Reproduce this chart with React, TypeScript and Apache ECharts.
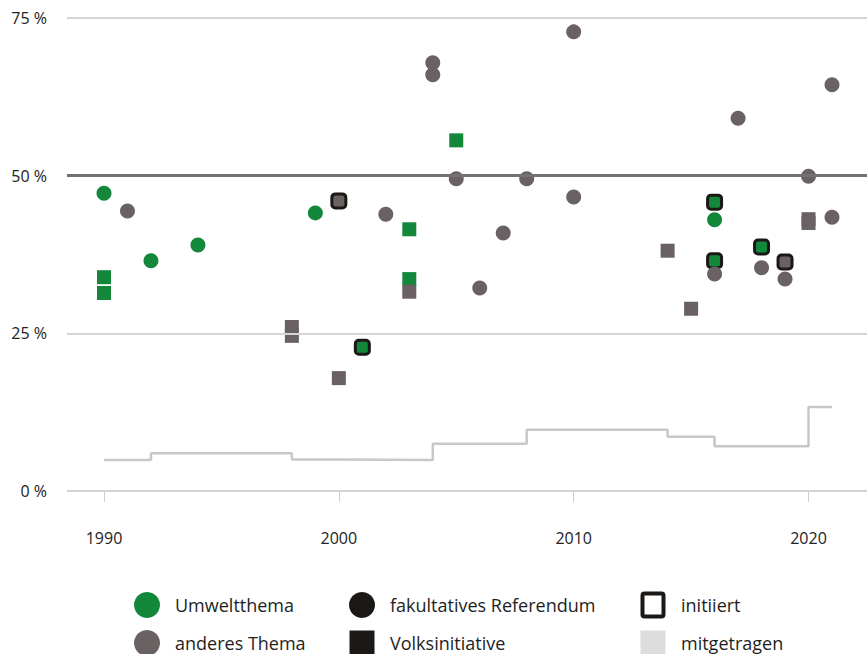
import React, { useEffect, useRef } from "react";
import * as echarts from "echarts";

// ---- data ----
const yearTicks = [1990, 2000, 2010, 2020];
const yTickLabels = ["0 %", "25 %", "50 %", "75 %"];

// light grey step line (mitgetragen)
const stepYears = [1990, 1992, 1998, 2000, 2004, 2008, 2014, 2016, 2020, 2021];
const stepValues = [4.9, 6.0, 5.0, 4.9, 7.5, 9.7, 8.6, 7.1, 13.3, 13.3];

// Volksinitiative (square), Umweltthema (green)
const initiativeGreen: [number, number][] = [
  [1990, 33.9], [1990, 31.4], [2003, 41.5], [2003, 33.6], [2005, 55.6],
];
// Volksinitiative (square), anderes Thema (grey)
const initiativeGrey: [number, number][] = [
  [1998, 26.0], [1998, 24.6], [2000, 17.9], [2003, 31.6], [2014, 38.1],
  [2015, 28.9], [2020, 43.1], [2020, 42.5],
];
// initiiert, Umweltthema
const initiatedGreen: [number, number][] = [
  [2001, 22.8], [2016, 45.8], [2016, 36.5], [2018, 38.7],
];
// initiiert, anderes Thema
const initiatedGrey: [number, number][] = [
  [2000, 46.0], [2019, 36.3],
];
// fakultatives Referendum (circle), Umweltthema
const referendumGreen: [number, number][] = [
  [1990, 47.2], [1992, 36.5], [1994, 39.0], [1999, 44.1], [2016, 43.0],
];
// fakultatives Referendum (circle), anderes Thema
const referendumGrey: [number, number][] = [
  [1991, 44.4], [2002, 43.9], [2004, 67.9], [2004, 66.0], [2005, 49.5],
  [2006, 32.2], [2007, 40.9], [2008, 49.5], [2010, 72.8], [2010, 46.6],
  [2016, 34.4], [2017, 59.1], [2018, 35.4], [2019, 33.6], [2020, 49.9],
  [2021, 64.4], [2021, 43.4],
];

const legendItems = [
  { label: "Umweltthema", kind: "circle", color: "#13883a", col: 0, row: 0 },
  { label: "anderes Thema", kind: "circle", color: "#6a6262", col: 0, row: 1 },
  { label: "fakultatives Referendum", kind: "circle", color: "#1b1815", col: 1, row: 0 },
  { label: "Volksinitiative", kind: "square", color: "#1b1815", col: 1, row: 1 },
  { label: "initiiert", kind: "hollow", color: "#1b1815", col: 2, row: 0 },
  { label: "mitgetragen", kind: "square", color: "#dedddd", col: 2, row: 1 },
];

const GREEN = "#13883a";
const GREY = "#6a6262";
const BLACK = "#1b1815";
const FONT = "Open Sans";

export default function App() {
  const ref = useRef<HTMLDivElement>(null);
  useEffect(() => {
    const chart = echarts.init(ref.current!, null, { renderer: "svg" });

    const colX = [147, 362, 653];
    const rowY = [605, 643];
    const legendGraphics: any[] = [];
    legendItems.forEach((it) => {
      const cx = colX[it.col];
      const cy = rowY[it.row];
      if (it.kind === "circle") {
        legendGraphics.push({ type: "circle", shape: { cx, cy, r: 13 }, style: { fill: it.color } });
      } else if (it.kind === "square") {
        legendGraphics.push({ type: "rect", shape: { x: cx - 12.5, y: cy - 12.5, width: 25, height: 26 }, style: { fill: it.color } });
      } else {
        legendGraphics.push({
          type: "rect",
          shape: { x: cx - 10.5, y: cy - 11.5, width: 21, height: 23, r: 2 },
          style: { fill: "#fff", stroke: it.color, lineWidth: 4 },
        });
      }
      legendGraphics.push({
        type: "text",
        x: cx + 28,
        y: cy,
        style: { text: it.label, fill: "#1e1e1e", font: `18px "${FONT}"`, verticalAlign: "middle", align: "left" },
      });
    });

    const sq = (data: [number, number][], color: string) => ({
      type: "scatter",
      xAxisIndex: 1,
      yAxisIndex: 1,
      symbol: "rect",
      symbolSize: 14,
      itemStyle: { color, opacity: 1 },
      data,
    });
    const initSq = (data: [number, number][], color: string) => ({
      type: "scatter",
      xAxisIndex: 1,
      yAxisIndex: 1,
      symbol: "roundRect",
      symbolSize: 14,
      itemStyle: { color, borderColor: BLACK, borderWidth: 3, opacity: 1 },
      data,
    });
    const circ = (data: [number, number][], color: string) => ({
      type: "scatter",
      xAxisIndex: 1,
      yAxisIndex: 1,
      symbol: "circle",
      symbolSize: 15,
      itemStyle: { color, opacity: 1 },
      data,
    });

    const pxPerYear = 728 / 31;

    chart.setOption({
      animation: false,
      textStyle: { fontFamily: FONT },
      grid: [
        { left: 67, right: 0, top: 18, bottom: 163 },
        { left: 104, width: pxPerYear * 31, top: 18, bottom: 163 },
        { left: 104, width: pxPerYear * 30, top: 18, bottom: 163 },
      ],
      xAxis: [
        { gridIndex: 0, type: "value", min: 0, max: 1, show: false },
        { gridIndex: 1, type: "value", min: 1990, max: 2021, show: false },
        {
          gridIndex: 2,
          type: "value",
          min: 1990,
          max: 2020,
          interval: 10,
          offset: 23,
          axisLine: { show: false },
          axisTick: { show: true, length: 11, lineStyle: { color: "#d0cdcd", width: 1 } },
          splitLine: { show: false },
          axisLabel: {
            margin: 16,
            color: "#222",
            fontSize: 16,
            fontFamily: FONT,
            formatter: (v: number) => (yearTicks.includes(v) ? String(v) : ""),
          },
        },
      ],
      yAxis: [
        {
          gridIndex: 0,
          type: "value",
          min: 0,
          max: 75,
          interval: 25,
          axisLine: { show: false },
          axisTick: { show: false },
          axisLabel: {
            margin: 20,
            color: "#222",
            fontSize: 16,
            fontFamily: FONT,
            formatter: (v: number) => yTickLabels[Math.round(v / 25)] ?? "",
          },
          splitLine: { show: false },
        },
        { gridIndex: 1, type: "value", min: 0, max: 75, show: false },
        { gridIndex: 2, type: "value", min: 0, max: 75, show: false },
      ],
      graphic: legendGraphics,
      series: [
        {
          type: "line",
          xAxisIndex: 0,
          yAxisIndex: 0,
          symbol: "none",
          silent: true,
          data: [],
          markLine: {
            silent: true,
            symbol: "none",
            label: { show: false },
            data: [
              { yAxis: 0, lineStyle: { color: "#d6d3d3", width: 2, type: "solid" } },
              { yAxis: 25, lineStyle: { color: "#d6d3d3", width: 2, type: "solid" } },
              { yAxis: 50, lineStyle: { color: "#757171", width: 3, type: "solid" } },
              { yAxis: 75, lineStyle: { color: "#d6d3d3", width: 2, type: "solid" } },
            ],
          },
        },
        {
          type: "line",
          xAxisIndex: 1,
          yAxisIndex: 1,
          step: "end",
          symbol: "none",
          lineStyle: { color: "#cac6c6", width: 2.5 },
          data: stepYears.map((y, i) => [y, stepValues[i]]),
        },
        sq(initiativeGreen, GREEN),
        sq(initiativeGrey, GREY),
        initSq(initiatedGreen, GREEN),
        initSq(initiatedGrey, GREY),
        circ(referendumGreen, GREEN),
        circ(referendumGrey, GREY),
      ],
    });
    return () => chart.dispose();
  }, []);
  return (
    <div
      ref={ref}
      style={{ position: "fixed", left: 0, top: 0, width: 867, height: 654, background: "#fff" }}
    />
  );
}
